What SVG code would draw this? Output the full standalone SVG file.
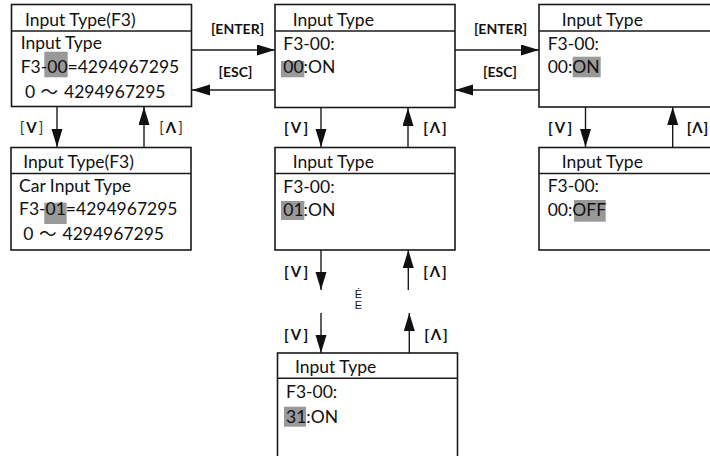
<svg xmlns="http://www.w3.org/2000/svg" width="710" height="456" viewBox="0 0 710 456">
<style>
.box{fill:#fff;stroke:#1a1a1a;stroke-width:1.6}
.sep{stroke:#1a1a1a;stroke-width:1.6}
.t{font-family:"Lato","Liberation Sans",sans-serif;font-size:17.5px;fill:#111}
.tl{font-family:"Lato","Noto Sans CJK SC",sans-serif}
.hl{fill:#999}
.lbl{font-family:"Lato","Liberation Sans",sans-serif;font-size:14px;font-weight:bold;fill:#111;text-anchor:middle}
.nav{font-family:"Lato","Liberation Sans",sans-serif;font-size:15px;font-weight:bold;fill:#111;text-anchor:middle;letter-spacing:2px}
.navl{font-family:"Lato","Liberation Sans",sans-serif;font-size:15px;fill:#333;text-anchor:middle;letter-spacing:2px}
.navl tspan.b{font-weight:bold;fill:#111}
.dots{font-family:"Liberation Sans",sans-serif;font-size:11px;fill:#111;text-anchor:middle}
.conn line{stroke:#1a1a1a;stroke-width:1.4;marker-end:url(#ah)}
</style>
<defs>
<marker id="ah" markerUnits="userSpaceOnUse" markerWidth="18" markerHeight="12" refX="18" refY="5.5" orient="auto">
<path d="M0,0 L18,5.5 L0,11 Z" fill="#111"/>
</marker>
</defs>

<g id="node-f3-list">
<rect class="box" x="11.5" y="4.5" width="180" height="102"/>
<line class="sep" x1="11.5" y1="31" x2="191.5" y2="31"/>
<rect class="hl" x="44.3" y="51.7" width="23.4" height="25.6"/>
<text class="t" x="25" y="25.5">Input Type(F3)</text>
<text class="t" x="20.7" y="49.3">Input Type</text>
<text class="t" x="20.7" y="73.3">F3-00=4294967295</text>
<text class="t tl" x="25" y="98.3">0<tspan x="40.5">～</tspan><tspan x="64">4294967295</tspan></text>
</g>

<g id="node-f3-car">
<rect class="box" x="11" y="147.5" width="180" height="102.5"/>
<line class="sep" x1="11" y1="173.5" x2="191" y2="173.5"/>
<rect class="hl" x="44.3" y="202.7" width="22.4" height="21.3"/>
<text class="t" x="23.3" y="168.3">Input Type(F3)</text>
<text class="t" x="19" y="191.7">Car Input Type</text>
<text class="t" x="19" y="215">F3-01=4294967295</text>
<text class="t tl" x="23.3" y="240">0<tspan x="39">～</tspan><tspan x="62.5">4294967295</tspan></text>
</g>

<g id="node-bit00">
<rect class="box" x="275" y="4.5" width="180" height="103"/>
<line class="sep" x1="275" y1="31" x2="455" y2="31"/>
<rect class="hl" x="281" y="61" width="23.3" height="16.3"/>
<text class="t" x="292.7" y="26">Input Type</text>
<text class="t" x="283.3" y="50">F3-00:</text>
<text class="t" x="283.3" y="73.3">00:ON</text>
</g>

<g id="node-bit01">
<rect class="box" x="275" y="147.5" width="180" height="102.5"/>
<line class="sep" x1="275" y1="173.5" x2="455" y2="173.5"/>
<rect class="hl" x="281" y="201" width="23.3" height="19"/>
<text class="t" x="292.7" y="168.3">Input Type</text>
<text class="t" x="283.3" y="192.7">F3-00:</text>
<text class="t" x="283.3" y="216">01:ON</text>
</g>

<g id="node-bit31">
<rect class="box" x="277.5" y="353" width="180" height="110"/>
<line class="sep" x1="277.5" y1="378.3" x2="457.5" y2="378.3"/>
<rect class="hl" x="284" y="406.7" width="22" height="20"/>
<text class="t" x="295" y="373.3">Input Type</text>
<text class="t" x="286" y="398.3">F3-00:</text>
<text class="t" x="286" y="422.7">31:ON</text>
</g>

<g id="node-on">
<rect class="box" x="539" y="4.5" width="190" height="102.5"/>
<line class="sep" x1="539" y1="31" x2="729" y2="31"/>
<rect class="hl" x="572.7" y="56.7" width="28" height="20.6"/>
<text class="t" x="561.7" y="26">Input Type</text>
<text class="t" x="547.7" y="50">F3-00:</text>
<text class="t" x="547.7" y="73.3">00:ON</text>
</g>

<g id="node-off">
<rect class="box" x="539" y="147.5" width="190" height="102.5"/>
<line class="sep" x1="539" y1="173.5" x2="729" y2="173.5"/>
<rect class="hl" x="574" y="200" width="31.7" height="21.7"/>
<text class="t" x="561.7" y="168.3">Input Type</text>
<text class="t" x="547.7" y="192">F3-00:</text>
<text class="t" x="547.7" y="216">00:OFF</text>
</g>

<g id="connectors" class="conn">
<line x1="192" y1="50" x2="275" y2="50"/>
<line x1="275" y1="90" x2="192" y2="90"/>
<line x1="455" y1="50" x2="539" y2="50"/>
<line x1="539" y1="90" x2="455" y2="90"/>
<line x1="57" y1="107" x2="57" y2="147"/>
<line x1="144" y1="147" x2="144" y2="107"/>
<line x1="321" y1="108" x2="321" y2="147"/>
<line x1="408" y1="147" x2="408" y2="108"/>
<line x1="585.5" y1="107" x2="585.5" y2="147"/>
<line x1="672.7" y1="147" x2="672.7" y2="107"/>
<line x1="321" y1="250" x2="321" y2="290"/>
<line x1="408.3" y1="290" x2="408.3" y2="250"/>
<line x1="321" y1="313" x2="321" y2="353"/>
<line x1="409.3" y1="353" x2="409.3" y2="313"/>
</g>

<g id="labels">
<text class="lbl" x="237.5" y="34">[ENTER]</text>
<text class="lbl" x="235.5" y="77">[ESC]</text>
<text class="lbl" x="500.5" y="34">[ENTER]</text>
<text class="lbl" x="500" y="77">[ESC]</text>
<text class="navl" x="32.5" y="133">[<tspan class="b">V</tspan>]</text>
<text class="navl" x="172" y="133">[<tspan class="b">Λ</tspan>]</text>
<text class="nav" x="297" y="133">[V]</text>
<text class="nav" x="436" y="133">[Λ]</text>
<text class="nav" x="561" y="133">[V]</text>
<text class="nav" x="698" y="133" style="letter-spacing:1px">[Λ]</text>
<text class="nav" x="297" y="277">[V]</text>
<text class="nav" x="436" y="277">[Λ]</text>
<text class="nav" x="297" y="339.5">[V]</text>
<text class="nav" x="437" y="339.5">[Λ]</text>
<text class="dots" x="358.5" y="298">Ė</text>
<text class="dots" x="358.5" y="308.5">E</text>
</g>
</svg>
